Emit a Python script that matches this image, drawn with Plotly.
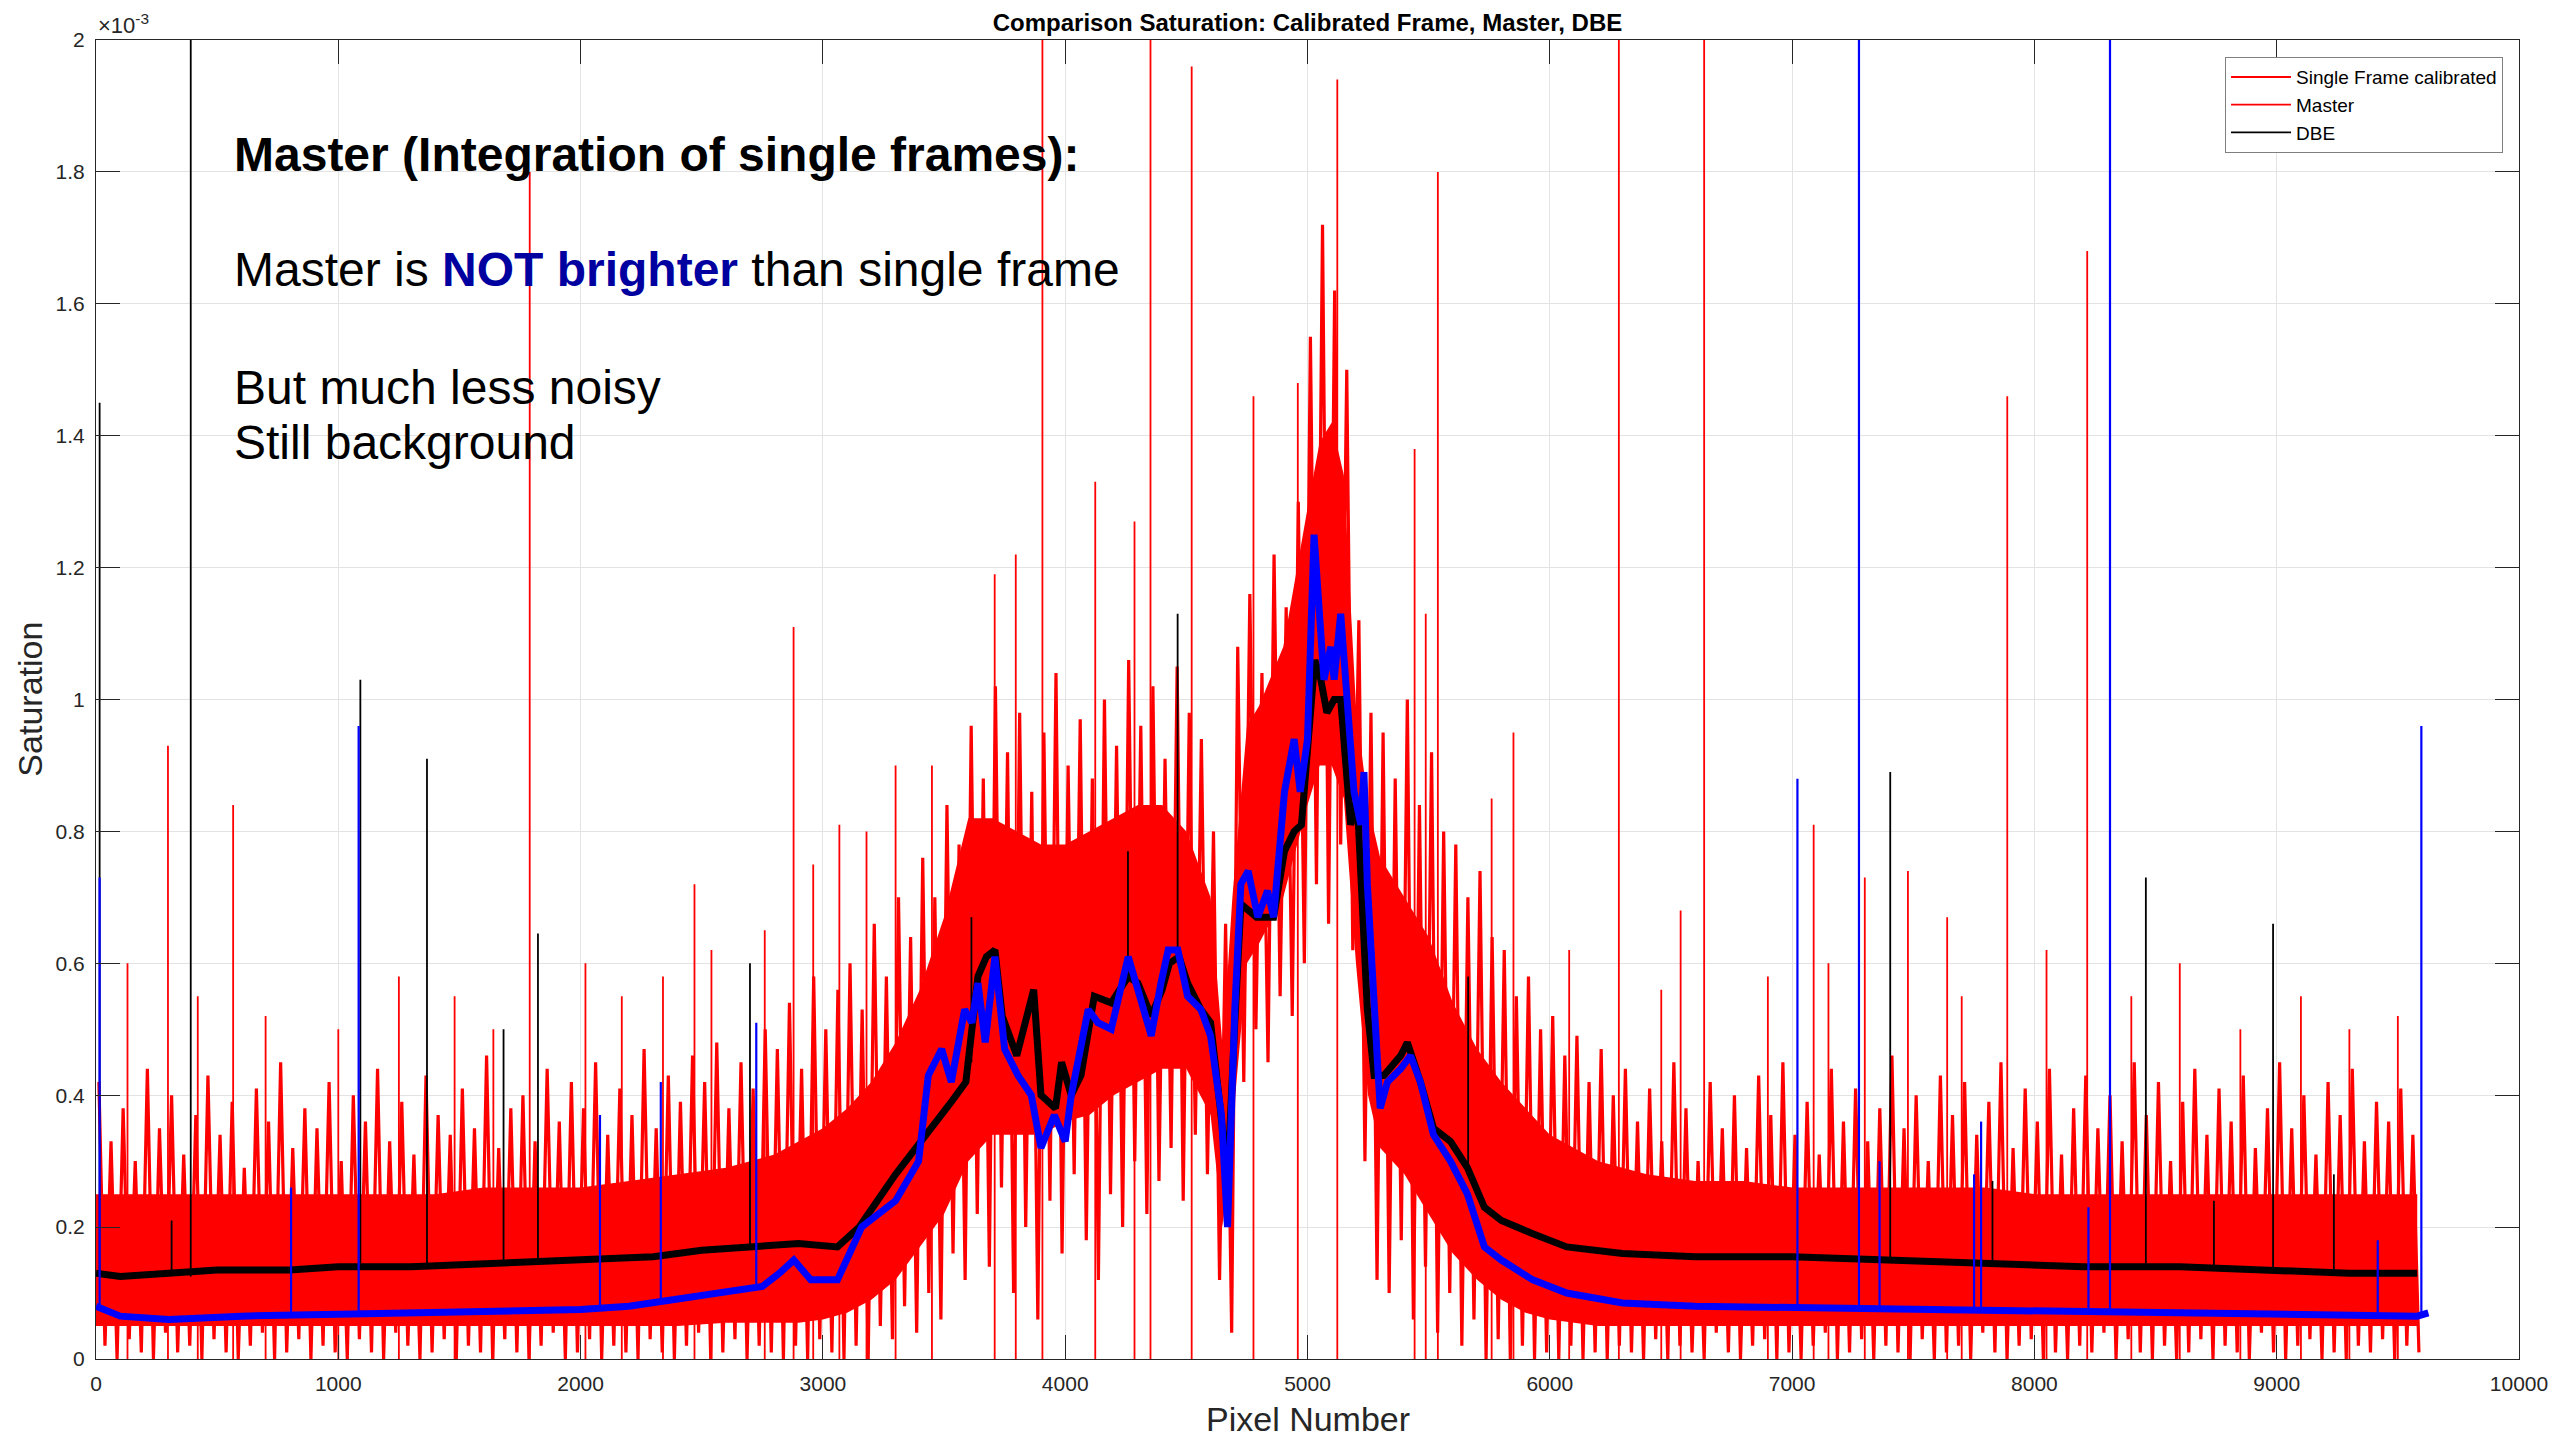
import plotly.graph_objects as go

# ---------------- data (values in units of 1e-3) ----------------
# solid core of the single-frame noise band
band_x = [0, 200, 400, 600, 800, 1000, 1200, 1400, 1600, 1800, 2000, 2200, 2400, 2600, 2800,
          2900, 3000, 3100, 3200, 3300, 3400, 3500, 3600, 3700, 3800, 3900, 4000, 4100, 4200, 4300, 4400, 4500, 4600,
          4650, 4690, 4750, 4800, 4900, 5000, 5050, 5100, 5150, 5200, 5250, 5300,
          5400, 5500, 5600, 5700, 5800, 5900, 6000, 6100, 6200,
          6400, 6600, 6800, 7000, 7200, 7400, 7600, 7800, 8000, 8200, 8400, 8600, 8800, 9000, 9200, 9400,
          9580]
band_lo = [0.05, 0.05, 0.05, 0.05, 0.05, 0.05, 0.05, 0.05, 0.05, 0.05, 0.05, 0.05, 0.05, 0.055, 0.055,
           0.055, 0.06, 0.07, 0.09, 0.12, 0.17, 0.22, 0.30, 0.34, 0.34, 0.34, 0.36, 0.37, 0.40, 0.42, 0.44, 0.44, 0.37,
           0.20, 0.35, 0.60, 0.63, 0.70, 0.84, 0.90, 0.90, 0.85, 0.60, 0.40, 0.32,
           0.28, 0.22, 0.16, 0.12, 0.09, 0.07, 0.06, 0.055, 0.05,
           0.05, 0.05, 0.05, 0.05, 0.05, 0.05, 0.05, 0.05, 0.05, 0.05, 0.05, 0.05, 0.05, 0.05, 0.05, 0.05,
           0.05]
band_hi = [0.25, 0.25, 0.25, 0.25, 0.25, 0.25, 0.25, 0.25, 0.26, 0.26, 0.26, 0.27, 0.28, 0.29, 0.31,
           0.33, 0.35, 0.38, 0.42, 0.48, 0.56, 0.67, 0.82, 0.82, 0.80, 0.78, 0.78, 0.80, 0.82, 0.84, 0.84, 0.80, 0.70,
           0.47, 0.70, 0.96, 0.99, 1.08, 1.29, 1.39, 1.42, 1.34, 0.99, 0.84, 0.76,
           0.70, 0.64, 0.54, 0.47, 0.42, 0.38, 0.34, 0.32, 0.30,
           0.28, 0.27, 0.27, 0.26, 0.26, 0.26, 0.26, 0.26, 0.25, 0.25, 0.25, 0.25, 0.25, 0.25, 0.25, 0.25,
           0.25]

# per-50-pixel maxima / minima of the single-frame noise
bin_x = list(range(0, 9600, 50))
noise_hi = [0.42, 0.33, 0.38, 0.30, 0.44, 0.35, 0.40, 0.31, 0.37, 0.43,
            0.34, 0.39, 0.29, 0.41, 0.36, 0.45, 0.32, 0.38, 0.35, 0.42,
            0.30, 0.40, 0.36, 0.44, 0.33, 0.39, 0.31, 0.43, 0.37, 0.34,
            0.41, 0.35, 0.46, 0.32, 0.38, 0.40, 0.33, 0.44, 0.36, 0.42,
            0.38, 0.45, 0.34, 0.41, 0.37, 0.47, 0.35, 0.43, 0.39, 0.46,
            0.42, 0.48, 0.38, 0.45, 0.41, 0.50,
            0.47, 0.54, 0.44, 0.58, 0.50, 0.56,
            0.60, 0.53, 0.66, 0.58, 0.70, 0.64,
            0.76, 0.70, 0.84, 0.78,
            0.96, 0.88, 1.02, 0.92, 0.98, 0.86, 0.95, 1.04, 0.90, 0.97,
            0.88, 1.00, 0.93, 1.06, 0.96, 1.02, 0.91, 1.05, 0.98, 0.94,
            0.80, 0.66,
            1.08, 1.16, 1.04, 1.22, 1.14, 1.30,
            1.55, 1.72, 1.62, 1.50,
            1.12, 0.98,
            0.95, 0.88, 1.00, 0.84, 0.92, 0.80,
            0.78, 0.70, 0.74, 0.64,
            0.62, 0.55, 0.58, 0.50,
            0.52, 0.46, 0.49, 0.42, 0.47, 0.40,
            0.44, 0.36, 0.41, 0.33, 0.45, 0.38, 0.30, 0.42, 0.35, 0.40,
            0.32, 0.43, 0.37, 0.45, 0.34, 0.39, 0.31, 0.44, 0.36, 0.41,
            0.33, 0.38, 0.46, 0.35, 0.40, 0.30, 0.43, 0.37, 0.42, 0.34,
            0.39, 0.45, 0.32, 0.41, 0.36, 0.44, 0.31, 0.38, 0.43, 0.35,
            0.40, 0.33, 0.45, 0.37, 0.42, 0.30, 0.39, 0.44, 0.34, 0.41,
            0.36, 0.43, 0.32, 0.38, 0.45, 0.35, 0.40, 0.31, 0.42, 0.37,
            0.44, 0.33, 0.39, 0.36, 0.41, 0.34]
noise_lo = [0.02, 0.00, 0.03, 0.01, 0.00, 0.04, 0.01, 0.02, 0.00, 0.03,
            0.01, 0.00, 0.02, 0.04, 0.00, 0.01, 0.03, 0.00, 0.02, 0.01,
            0.00, 0.03, 0.01, 0.00, 0.04, 0.02, 0.00, 0.01, 0.03, 0.00,
            0.02, 0.01, 0.00, 0.03, 0.01, 0.00, 0.02, 0.04, 0.00, 0.01,
            0.03, 0.00, 0.02, 0.01, 0.00, 0.03, 0.01, 0.00, 0.02, 0.04,
            0.00, 0.01, 0.03, 0.00, 0.02, 0.01,
            0.00, 0.02, 0.00, 0.03, 0.01, 0.00,
            0.02, 0.00, 0.05, 0.03, 0.08, 0.04,
            0.10, 0.06, 0.16, 0.12,
            0.22, 0.14, 0.26, 0.10, 0.20, 0.06, 0.24, 0.16, 0.28, 0.18,
            0.12, 0.25, 0.20, 0.30, 0.22, 0.27, 0.32, 0.24, 0.34, 0.28,
            0.12, 0.04,
            0.42, 0.50, 0.45, 0.55, 0.52, 0.60,
            0.72, 0.66, 0.78, 0.62,
            0.30, 0.12,
            0.10, 0.18, 0.06, 0.14, 0.04, 0.10,
            0.02, 0.06, 0.00, 0.03,
            0.00, 0.02, 0.00, 0.01,
            0.00, 0.02, 0.00, 0.01, 0.00, 0.02,
            0.01, 0.00, 0.03, 0.00, 0.02, 0.01, 0.00, 0.04, 0.01, 0.00,
            0.02, 0.03, 0.00, 0.01, 0.00, 0.02, 0.04, 0.00, 0.01, 0.03,
            0.00, 0.02, 0.01, 0.00, 0.03, 0.00, 0.01, 0.02, 0.00, 0.04,
            0.01, 0.00, 0.02, 0.03, 0.00, 0.01, 0.00, 0.02, 0.01, 0.04,
            0.00, 0.03, 0.01, 0.00, 0.02, 0.00, 0.01, 0.03, 0.00, 0.02,
            0.01, 0.00, 0.04, 0.01, 0.00, 0.02, 0.03, 0.00, 0.01, 0.00,
            0.02, 0.01, 0.03, 0.00, 0.02, 0.01]

# isolated red spikes of moderate height
red_spike_x = [130, 297, 420, 566, 700, 1000, 1250, 1480, 1640, 2020, 2170, 2340, 2470, 2540,
               2760, 2960, 3068, 3180, 3300, 3450, 5760, 5850, 6080, 6460, 6540, 6900, 7089, 7150,
               7300, 7478, 7640, 7700, 8050, 8400, 8600, 8850, 9100, 9300, 9500]
red_spike_y = [0.60, 0.93, 0.55, 0.84, 0.52, 0.50, 0.58, 0.55, 0.50, 0.60, 0.55, 0.58, 0.72, 0.62,
               0.65, 0.75, 0.81, 0.80, 0.90, 0.90, 0.85, 0.95, 0.62, 0.56, 0.68, 0.58, 0.81, 0.60,
               0.73, 0.74, 0.67, 0.55, 0.62, 0.55, 0.60, 0.50, 0.55, 0.50, 0.52]
# tall red spikes
tall_spike_x = [1790, 2879, 3709, 3796, 3906, 4124, 4286, 4352, 4522, 4777, 4960, 5123, 5442, 5488, 5538,
                6285, 6637, 7888, 8218]
tall_spike_y = [1.80, 1.11, 1.19, 1.22, 2.05, 1.33, 1.27, 2.05, 1.96, 1.46, 1.48, 1.94, 1.38, 1.13, 1.80,
                2.05, 2.05, 1.46, 1.68]

# DBE (black)
blk_x = [0, 100, 300, 500, 800, 1000, 1300, 1600, 2000, 2300, 2500, 2700, 2900, 3060, 3150, 3300, 3430, 3530,
         3590, 3640, 3675, 3710, 3740, 3800, 3835, 3870, 3900, 3960, 3985, 4025, 4065, 4120, 4190, 4260, 4300,
         4355, 4400, 4430, 4470, 4505, 4560, 4600, 4640, 4670, 4700, 4725, 4790, 4860, 4905, 4945, 4975, 5010,
         5030, 5055, 5080, 5110, 5137, 5150, 5178, 5205, 5220, 5247, 5275, 5315, 5385, 5412, 5466, 5520, 5590,
         5660, 5730, 5800, 5930, 6070, 6300, 6600, 7000, 7400, 7800, 8200, 8600, 9000, 9300, 9580]
blk_y = [0.13, 0.125, 0.13, 0.135, 0.135, 0.14, 0.14, 0.145, 0.15, 0.155, 0.165, 0.17, 0.175, 0.17, 0.20, 0.28, 0.34, 0.39,
         0.42, 0.58, 0.61, 0.62, 0.52, 0.46, 0.51, 0.56, 0.40, 0.38, 0.45, 0.40, 0.43, 0.55, 0.54, 0.58, 0.57,
         0.52, 0.56, 0.60, 0.61, 0.57, 0.53, 0.51, 0.38, 0.27, 0.51, 0.69, 0.67, 0.67, 0.77, 0.80, 0.81, 0.97,
         1.06, 1.03, 0.98, 1.00, 1.00, 0.94, 0.81, 0.85, 0.72, 0.53, 0.43, 0.43, 0.46, 0.48, 0.42, 0.35, 0.33,
         0.29, 0.23, 0.21, 0.19, 0.17, 0.16, 0.155, 0.155, 0.15, 0.145, 0.14, 0.14, 0.135, 0.13, 0.13]
blk_spk_x = [15, 312, 391, 1091, 1366, 1682, 1824, 2699, 3613, 4259, 4464, 5663, 7405, 7827, 8460, 8741, 8985, 9236]
blk_spk_base = [0.13, 0.13, 0.125, 0.14, 0.14, 0.145, 0.145, 0.17, 0.45, 0.58, 0.61, 0.29, 0.15, 0.145, 0.14, 0.14, 0.135, 0.13]
blk_spk_top = [1.45, 0.21, 2.05, 1.03, 0.91, 0.50, 0.645, 0.60, 0.67, 0.77, 1.13, 0.58, 0.89, 0.27, 0.73, 0.24, 0.66, 0.28]

# blue series
blu_x = [0, 100, 300, 600, 1000, 1300, 1600, 2000, 2200, 2400, 2600, 2750, 2820, 2880, 2950, 3060, 3160, 3300,
         3395, 3435, 3490, 3530, 3585, 3615, 3640, 3670, 3710, 3750, 3805, 3860, 3900, 3955, 4000, 4025, 4095,
         4135, 4190, 4260, 4300, 4355, 4395, 4425, 4465, 4505, 4560, 4600, 4645, 4670, 4700, 4725, 4755, 4795,
         4835, 4860, 4905, 4945, 4970, 5000, 5027, 5041, 5068, 5096, 5110, 5137, 5165, 5192, 5220, 5233, 5247,
         5275, 5300, 5330, 5385, 5425, 5466, 5520, 5590, 5660, 5730, 5800, 5930, 6070, 6300, 6600, 7000, 7500,
         8000, 8500, 9000, 9300, 9580, 9626]
blu_y = [0.08, 0.065, 0.06, 0.065, 0.068, 0.07, 0.072, 0.075, 0.08, 0.09, 0.10, 0.11, 0.13, 0.15, 0.12, 0.12, 0.20, 0.24,
         0.30, 0.43, 0.47, 0.42, 0.53, 0.51, 0.57, 0.48, 0.61, 0.47, 0.43, 0.40, 0.32, 0.37, 0.33, 0.40, 0.53,
         0.51, 0.50, 0.61, 0.56, 0.49, 0.57, 0.62, 0.62, 0.55, 0.53, 0.49, 0.37, 0.20, 0.53, 0.72, 0.74, 0.67,
         0.71, 0.67, 0.86, 0.94, 0.86, 0.94, 1.25, 1.16, 1.03, 1.08, 1.03, 1.13, 0.98, 0.86, 0.81, 0.89, 0.72,
         0.53, 0.38, 0.42, 0.44, 0.46, 0.42, 0.34, 0.30, 0.25, 0.17, 0.15, 0.12, 0.10, 0.085, 0.08, 0.078, 0.075,
         0.072, 0.07, 0.068, 0.065, 0.065, 0.07]
blu_spk_x = [15, 805, 1084, 2080, 2331, 2725, 7022, 7276, 7361, 7751, 7780, 8223, 8312, 9417, 9597]
blu_spk_base = [0.08, 0.065, 0.068, 0.075, 0.085, 0.105, 0.078, 0.077, 0.077, 0.074, 0.074, 0.072, 0.072, 0.066, 0.065]
blu_spk_top = [0.73, 0.26, 0.96, 0.37, 0.42, 0.51, 0.88, 2.05, 0.30, 0.28, 0.36, 0.23, 2.05, 0.18, 0.96]

x_ticks = list(range(0, 10001, 1000))
y_ticks = [0, 0.2, 0.4, 0.6, 0.8, 1.0, 1.2, 1.4, 1.6, 1.8, 2.0]
y_tick_text = ["0", "0.2", "0.4", "0.6", "0.8", "1", "1.2", "1.4", "1.6", "1.8", "2"]

# ---------------- figure ----------------
FONT = "Liberation Sans, Arial, Helvetica, sans-serif"
TXT = "#262626"
RED = "#FF0000"


def segs(xs, y0s, y1s):
    X, Y = [], []
    for x, a, b in zip(xs, y0s, y1s):
        X += [x, x, None]
        Y += [a, b, None]
    return X, Y


fig = go.Figure()

# solid core of the single frame noise
fig.add_trace(go.Scatter(x=band_x + band_x[::-1], y=band_hi + band_lo[::-1], fill="toself",
                         fillcolor=RED, line=dict(width=0, color=RED), mode="lines",
                         showlegend=False, hoverinfo="skip", legendgroup="sf"))

# zig-zag noise of the single frame (max then min inside each 50-pixel bin)
zx, zy = [], []
for b, h, l in zip(bin_x, noise_hi, noise_lo):
    zx += [b + 12, b + 37]
    zy += [h, l]
fig.add_trace(go.Scatter(x=zx, y=zy, mode="lines", line=dict(color=RED, width=3.2),
                         showlegend=False, legendgroup="sf", name="Single Frame calibrated"))

# red spikes
sx, sy = segs(red_spike_x, [0] * len(red_spike_x), red_spike_y)
fig.add_trace(go.Scatter(x=sx, y=sy, mode="lines", line=dict(color=RED, width=1.8),
                         name="Single Frame calibrated", legendgroup="sf"))
tx, ty = segs(tall_spike_x, [0] * len(tall_spike_x), tall_spike_y)
fig.add_trace(go.Scatter(x=tx, y=ty, mode="lines", line=dict(color=RED, width=1.8), name="Master"))

# DBE (thin spikes carry the legend entry, thick line is the level)
bx, by = segs(blk_spk_x, blk_spk_base, blk_spk_top)
fig.add_trace(go.Scatter(x=bx, y=by, mode="lines", line=dict(color="black", width=1.8), name="DBE",
                         legendgroup="dbe"))
fig.add_trace(go.Scatter(x=blk_x, y=blk_y, mode="lines", line=dict(color="black", width=7), showlegend=False,
                         legendgroup="dbe"))

# blue series
fig.add_trace(go.Scatter(x=blu_x, y=blu_y, mode="lines", line=dict(color="#0000FF", width=7), showlegend=False,
                         name="Master (blue)"))
ux, uy = segs(blu_spk_x, blu_spk_base, blu_spk_top)
fig.add_trace(go.Scatter(x=ux, y=uy, mode="lines", line=dict(color="#0000FF", width=2.2), showlegend=False))

axis_common = dict(showline=True, linecolor=TXT, linewidth=1, mirror="ticks", ticks="inside", ticklen=24,
                   tickcolor=TXT, tickwidth=1, showgrid=True, gridcolor="#E3E3E3", gridwidth=1,
                   zeroline=False, tickfont=dict(family=FONT, size=21, color=TXT))

fig.update_xaxes(range=[0, 10000], tickvals=x_ticks, ticktext=[str(v) for v in x_ticks],
                 ticklabelstandoff=6, **axis_common)
fig.update_yaxes(range=[0, 2], tickvals=y_ticks, ticktext=y_tick_text, ticklabelstandoff=6, **axis_common)

fig.update_layout(
    width=2560, height=1440,
    margin=dict(l=96, r=36, t=40, b=81, pad=0),
    paper_bgcolor="white", plot_bgcolor="white",
    font=dict(family=FONT, color=TXT),
    title=dict(text="<b>Comparison Saturation: Calibrated Frame, Master, DBE</b>",
               font=dict(family=FONT, size=24, color="black"),
               x=0.5, xref="paper", xanchor="center", y=1 - 23 / 1440, yref="container", yanchor="middle"),
    legend=dict(x=0.9934, y=0.987, xanchor="right", yanchor="top", bgcolor="white",
                bordercolor="#7f7f7f", borderwidth=1, font=dict(family=FONT, size=19, color="black"),
                itemwidth=60, tracegroupgap=0),
    showlegend=True,
)

ann = []
ann.append(dict(text="Pixel Number", x=0.5, y=-0.0455, xref="paper", yref="paper", showarrow=False,
                xanchor="center", yanchor="middle", font=dict(family=FONT, size=34, color=TXT)))
ann.append(dict(text="Saturation", x=-0.0276, y=0.5, xref="paper", yref="paper", showarrow=False,
                textangle=-90, xanchor="center", yanchor="middle", font=dict(family=FONT, size=34, color=TXT)))
ann.append(dict(text="×10<sup>-3</sup>", x=0.0, y=1.0, xref="paper", yref="paper", showarrow=False,
                xanchor="left", yanchor="bottom", font=dict(family=FONT, size=22, color=TXT)))

lines = [
    ("<b>Master (Integration of single frames):</b>", 154),
    ("Master is <span style='color:#0000A0'><b>NOT brighter</b></span> than single frame", 270),
    ("But much less noisy", 387),
    ("Still background", 443),
]
for t, ypx in lines:
    ann.append(dict(text=t, x=(232 - 96) / 2428, y=(1359 - ypx) / 1319, xref="paper", yref="paper",
                    showarrow=False, xanchor="left", yanchor="middle",
                    font=dict(family=FONT, size=48, color="black")))
fig.update_layout(annotations=ann)

fig.write_html("out.html")
